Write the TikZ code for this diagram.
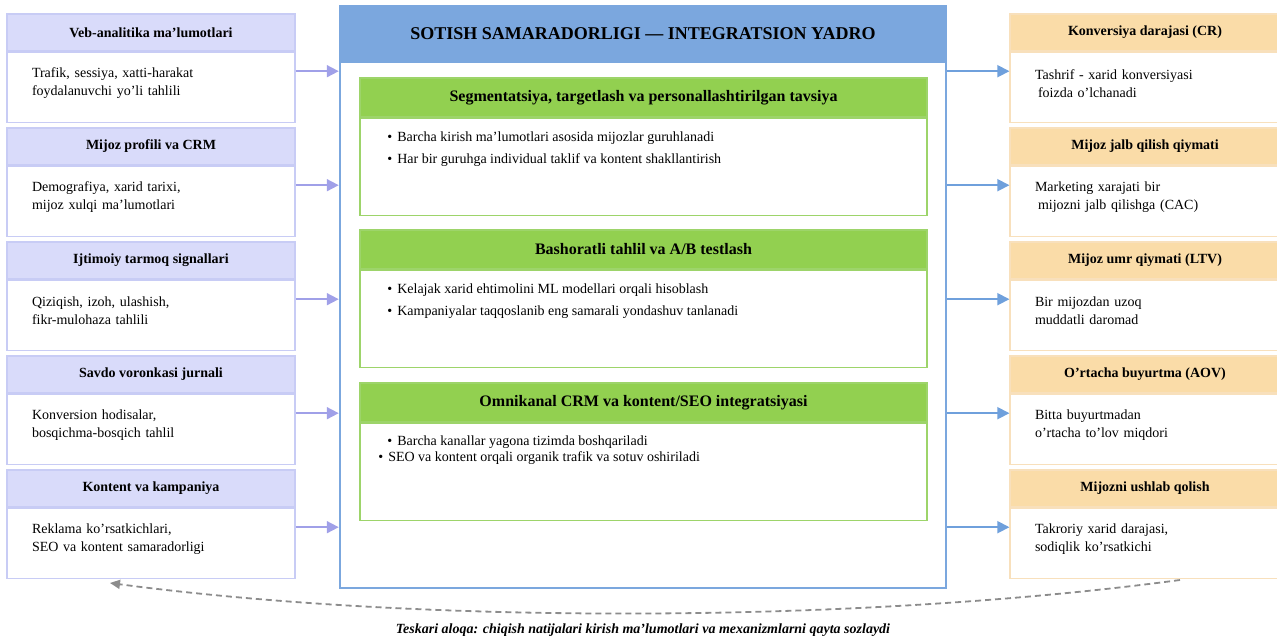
\documentclass[tikz,border=0pt]{standalone}
\usepackage{fontspec}
\setmainfont{Liberation Serif}
\usetikzlibrary{positioning,calc,arrows.meta}

\definecolor{inhd}{HTML}{D9DBFA}
\definecolor{inln}{HTML}{C8CCF5}
\definecolor{inarrow}{HTML}{A0A0E8}
\definecolor{outhd}{HTML}{FADCA8}
\definecolor{outln}{HTML}{F8E0BC}
\definecolor{corebl}{HTML}{7BA7DE}
\definecolor{outarrow}{HTML}{6FA0DC}
\definecolor{grhd}{HTML}{92D050}
\definecolor{grln}{HTML}{9DD46A}
\definecolor{fbgrey}{HTML}{8C8C8C}

\begin{document}
\begin{tikzpicture}[x=1pt,y=1pt,
		lhead/.style={rectangle,fill=inhd,draw=inln,line width=1.2pt,minimum width=288pt,minimum height=37pt,inner sep=0pt,font=\bfseries\fontsize{14}{16}\selectfont},
		lbody/.style={rectangle,fill=white,draw=inln,line width=1.2pt,minimum width=288pt,minimum height=70pt,inner xsep=25pt,text width=238pt,align=left,font=\fontsize{14}{18}\selectfont,execute at end node={\endgraf\vspace*{8pt}}},
		rhead/.style={lhead,fill=outhd,draw=outln,minimum width=270pt},
		rbody/.style={lbody,draw=outln,minimum width=270pt,text width=220pt},
		corebox/.style={rectangle,draw=corebl,line width=2.5pt,minimum width=606pt,minimum height=582pt},
		coretitle/.style={rectangle,fill=corebl,draw=corebl,line width=2.5pt,minimum width=606pt,minimum height=56pt,font=\bfseries\fontsize{18}{20}\selectfont},
		ghead/.style={rectangle,fill=grhd,draw=grln,line width=1.6pt,minimum width=567pt,minimum height=39pt,inner sep=0pt,font=\bfseries\fontsize{16}{18}\selectfont},
		gbody/.style={rectangle,fill=white,draw=grln,line width=1.6pt,minimum width=567pt,minimum height=97pt},
		glist/.style={inner sep=0pt,align=left,anchor=north west,font=\fontsize{14}{22}\selectfont},
		inarr/.style={draw=inarrow,line width=1.8pt,-{Triangle[length=12pt,width=12pt]}},
		outarr/.style={draw=outarrow,line width=1.8pt,-{Triangle[length=12pt,width=12pt]}},
		feedback/.style={draw=fbgrey,line width=1.8pt,dash pattern=on 6pt off 4pt,-{Triangle[length=10pt,width=9pt]}},
		fbnote/.style={font=\bfseries\itshape\fontsize{14}{16}\selectfont}]
		\useasboundingbox (0,0) rectangle (1277,638);

		% integration core
		\node[corebox] (core) at (643,341) {};
		\node[coretitle,below=0pt of core.north] (coreT) {SOTISH SAMARADORLIGI — INTEGRATSION YADRO};

		\node[ghead] (seg) at (643.5,540.5) {Segmentatsiya, targetlash va personallashtirilgan tavsiya};
		\node[gbody,below=0pt of seg] (segB) {};
		\node[glist] (segL) at ($(segB.north west)+(28,-14)$) {\textbullet\hspace{5pt}Barcha kirish ma’lumotlari asosida mijozlar guruhlanadi\\\textbullet\hspace{5pt}Har bir guruhga individual taklif va kontent shakllantirish};

		\node[ghead] (bash) at (643.5,388.5) {Bashoratli tahlil va A/B testlash};
		\node[gbody,below=0pt of bash] (bashB) {};
		\node[glist] (bashL) at ($(bashB.north west)+(28,-14)$) {\textbullet\hspace{5pt}Kelajak xarid ehtimolini ML modellari orqali hisoblash\\\textbullet\hspace{5pt}Kampaniyalar taqqoslanib eng samarali yondashuv tanlanadi};

		\node[ghead] (omni) at (643.5,235.5) {Omnikanal CRM va kontent/SEO integratsiyasi};
		\node[gbody,below=0pt of omni] (omniB) {};
		\node[glist] (omniL) at ($(omniB.north west)+(28,-13)$) {\textbullet\hspace{5pt}Barcha kanallar yagona tizimda boshqariladi\\[-6pt]\hspace*{-9pt}\textbullet\hspace{5pt}SEO va kontent orqali organik trafik va sotuv oshiriladi};

		% input sources
		\node[lhead] (veb) at (151,605.5) {Veb-analitika ma’lumotlari};
		\node[lbody,below=0pt of veb] (vebB) {Trafik, sessiya, xatti-harakat\\foydalanuvchi yo’li tahlili};
		\node[lhead] (crm) at (151,491.5) {Mijoz profili va CRM};
		\node[lbody,below=0pt of crm] (crmB) {Demografiya, xarid tarixi,\\mijoz xulqi ma’lumotlari};
		\node[lhead] (ijt) at (151,377.5) {Ijtimoiy tarmoq signallari};
		\node[lbody,below=0pt of ijt] (ijtB) {Qiziqish, izoh, ulashish,\\fikr-mulohaza tahlili};
		\node[lhead] (vor) at (151,263.5) {Savdo voronkasi jurnali};
		\node[lbody,below=0pt of vor] (vorB) {Konversion hodisalar,\\bosqichma-bosqich tahlil};
		\node[lhead] (kam) at (151,149.5) {Kontent va kampaniya};
		\node[lbody,below=0pt of kam] (kamB) {Reklama ko’rsatkichlari,\\SEO va kontent samaradorligi};

		\draw[inarr] ($(vebB.east)+(0,16)$) -- ($(vebB.east -| core.west)+(0,16)$);
		\draw[inarr] ($(crmB.east)+(0,16)$) -- ($(crmB.east -| core.west)+(0,16)$);
		\draw[inarr] ($(ijtB.east)+(0,16)$) -- ($(ijtB.east -| core.west)+(0,16)$);
		\draw[inarr] ($(vorB.east)+(0,16)$) -- ($(vorB.east -| core.west)+(0,16)$);
		\draw[inarr] ($(kamB.east)+(0,16)$) -- ($(kamB.east -| core.west)+(0,16)$);

		% output metrics
		\node[rhead] (cr) at (1145,605.5) {Konversiya darajasi (CR)};
		\node[rbody,below=0pt of cr] (crB) {Tashrif - xarid konversiyasi\\\hspace*{3pt}foizda o’lchanadi};
		\node[rhead] (cac) at (1145,491.5) {Mijoz jalb qilish qiymati};
		\node[rbody,below=0pt of cac] (cacB) {Marketing xarajati bir\\\hspace*{3pt}mijozni jalb qilishga (CAC)};
		\node[rhead] (ltv) at (1145,377.5) {Mijoz umr qiymati (LTV)};
		\node[rbody,below=0pt of ltv] (ltvB) {Bir mijozdan uzoq\\muddatli daromad};
		\node[rhead] (aov) at (1145,263.5) {O’rtacha buyurtma (AOV)};
		\node[rbody,below=0pt of aov] (aovB) {Bitta buyurtmadan\\o’rtacha to’lov miqdori};
		\node[rhead] (ret) at (1145,149.5) {Mijozni ushlab qolish};
		\node[rbody,below=0pt of ret] (retB) {Takroriy xarid darajasi,\\sodiqlik ko’rsatkichi};

		\draw[outarr] ($(crB.west -| core.east)+(0,16)$) -- ($(crB.west)+(0,16)$);
		\draw[outarr] ($(cacB.west -| core.east)+(0,16)$) -- ($(cacB.west)+(0,16)$);
		\draw[outarr] ($(ltvB.west -| core.east)+(0,16)$) -- ($(ltvB.west)+(0,16)$);
		\draw[outarr] ($(aovB.west -| core.east)+(0,16)$) -- ($(aovB.west)+(0,16)$);
		\draw[outarr] ($(retB.west -| core.east)+(0,16)$) -- ($(retB.west)+(0,16)$);

		% feedback loop
		\coordinate (fbR) at (1180,58);
		\coordinate (fbL) at (110,55);
		\draw[feedback] (fbR) .. controls (850,14) and (420,14) .. (fbL);
		\node[fbnote] (fbtext) at (643,8) {Teskari aloqa: chiqish natijalari kirish ma’lumotlari va mexanizmlarni qayta sozlaydi};
	\end{tikzpicture}
\end{document}
